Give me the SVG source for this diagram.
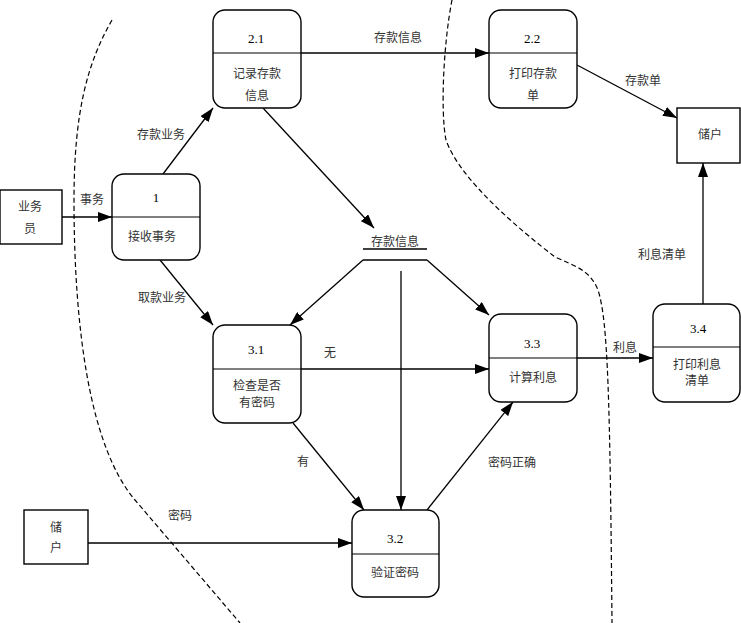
<svg xmlns="http://www.w3.org/2000/svg" width="741" height="623" viewBox="0 0 741 623">
<style>
.node{fill:#fff;stroke:#000;stroke-width:1.4}
.div{stroke:#000;stroke-width:1.2}
.ln{fill:none;stroke:#000;stroke-width:1.3}
.dash{fill:none;stroke:#000;stroke-width:1.2;stroke-dasharray:5,3}
.t{font-family:"Liberation Serif","Noto Sans CJK SC",serif;font-size:12px;fill:#333;text-anchor:middle;dominant-baseline:central}
.n{font-family:"Liberation Serif",serif;font-size:13px;fill:#000;text-anchor:middle;dominant-baseline:central}
</style>
<defs>
<marker id="arr" markerWidth="14" markerHeight="10" refX="14" refY="5" orient="auto" markerUnits="userSpaceOnUse">
<path d="M0,0 L14,5 L0,10 z" fill="#000"/>
</marker>
</defs>
<rect width="741" height="623" fill="#fff"/>
<g id="boundaries">
<path class="dash" d="M112,20 C88,62 74,110 74,200 C74,330 90,447 135,500 L240,623"/>
<path class="dash" d="M452,0 C444,40 440,110 446,140 C460,180 520,230 555,257 C575,266 590,270 598,290 C608,320 610,400 612,623"/>
</g>
<g id="connectors">
<line class="ln" x1="62" y1="217" x2="112" y2="217" marker-end="url(#arr)"/>
<text class="t" x="92" y="200">事务</text>
<line class="ln" x1="163" y1="174" x2="213" y2="108" marker-end="url(#arr)"/>
<text class="t" x="161" y="135">存款业务</text>
<line class="ln" x1="301" y1="53" x2="489" y2="53" marker-end="url(#arr)"/>
<text class="t" x="398" y="38">存款信息</text>
<line class="ln" x1="263" y1="108" x2="374" y2="228" marker-end="url(#arr)"/>
<line class="ln" x1="577" y1="65" x2="677" y2="118" marker-end="url(#arr)"/>
<text class="t" x="643" y="81">存款单</text>
<line class="ln" x1="160" y1="260" x2="213" y2="325" marker-end="url(#arr)"/>
<text class="t" x="162" y="298">取款业务</text>
<line class="ln" x1="363" y1="260" x2="290" y2="325" marker-end="url(#arr)"/>
<line class="ln" x1="427" y1="260" x2="489" y2="315" marker-end="url(#arr)"/>
<line class="ln" x1="401" y1="271" x2="401" y2="510" marker-end="url(#arr)"/>
<line class="ln" x1="301" y1="369" x2="489" y2="369" marker-end="url(#arr)"/>
<text class="t" x="330" y="353">无</text>
<line class="ln" x1="577" y1="358" x2="653" y2="358" marker-end="url(#arr)"/>
<text class="t" x="625" y="348">利息</text>
<line class="ln" x1="703" y1="304" x2="703" y2="163" marker-end="url(#arr)"/>
<text class="t" x="662" y="255">利息清单</text>
<line class="ln" x1="293" y1="423" x2="364" y2="510" marker-end="url(#arr)"/>
<text class="t" x="303" y="462">有</text>
<line class="ln" x1="427" y1="510" x2="513" y2="402" marker-end="url(#arr)"/>
<text class="t" x="512" y="463">密码正确</text>
<line class="ln" x1="88" y1="543" x2="352" y2="543" marker-end="url(#arr)"/>
<text class="t" x="180" y="516">密码</text>
</g>
<g id="store">
<text class="t" x="395" y="242">存款信息</text>
<line class="ln" x1="363" y1="249" x2="427" y2="249"/>
<line class="ln" x1="363" y1="260" x2="427" y2="260"/>
</g>
<g id="clerk">
<rect class="node" x="0" y="190" width="62" height="54"/>
<text class="t" x="30" y="207">业务</text>
<text class="t" x="30" y="229">员</text>
</g>
<g id="p1">
<rect class="node" x="112" y="174" width="88" height="86" rx="12"/>
<line class="div" x1="112" y1="217" x2="200" y2="217"/>
<text class="n" x="156" y="197">1</text>
<text class="t" x="152" y="237">接收事务</text>
</g>
<g id="p21">
<rect class="node" x="213" y="10" width="88" height="98" rx="12"/>
<line class="div" x1="213" y1="53" x2="301" y2="53"/>
<text class="n" x="256" y="38">2.1</text>
<text class="t" x="257" y="74">记录存款</text>
<text class="t" x="257" y="96">信息</text>
</g>
<g id="p22">
<rect class="node" x="489" y="10" width="88" height="98" rx="12"/>
<line class="div" x1="489" y1="53" x2="577" y2="53"/>
<text class="n" x="532" y="38">2.2</text>
<text class="t" x="533" y="74">打印存款</text>
<text class="t" x="533" y="96">单</text>
</g>
<g id="customer1">
<rect class="node" x="677" y="108" width="63" height="55"/>
<text class="t" x="710" y="135">储户</text>
</g>
<g id="p31">
<rect class="node" x="213" y="325" width="88" height="98" rx="12"/>
<line class="div" x1="213" y1="369" x2="301" y2="369"/>
<text class="n" x="256" y="349">3.1</text>
<text class="t" x="257" y="386">检查是否</text>
<text class="t" x="257" y="403">有密码</text>
</g>
<g id="p33">
<rect class="node" x="489" y="314" width="88" height="88" rx="12"/>
<line class="div" x1="489" y1="358" x2="577" y2="358"/>
<text class="n" x="532" y="343">3.3</text>
<text class="t" x="533" y="378">计算利息</text>
</g>
<g id="p34">
<rect class="node" x="653" y="304" width="87" height="98" rx="12"/>
<line class="div" x1="653" y1="347" x2="740" y2="347"/>
<text class="n" x="698" y="328">3.4</text>
<text class="t" x="697" y="365">打印利息</text>
<text class="t" x="697" y="381">清单</text>
</g>
<g id="p32">
<rect class="node" x="352" y="510" width="87" height="87" rx="12"/>
<line class="div" x1="352" y1="554" x2="439" y2="554"/>
<text class="n" x="395" y="538">3.2</text>
<text class="t" x="395" y="573">验证密码</text>
</g>
<g id="customer2">
<rect class="node" x="24" y="510" width="64" height="54"/>
<text class="t" x="56" y="528">储</text>
<text class="t" x="56" y="548">户</text>
</g>
</svg>
